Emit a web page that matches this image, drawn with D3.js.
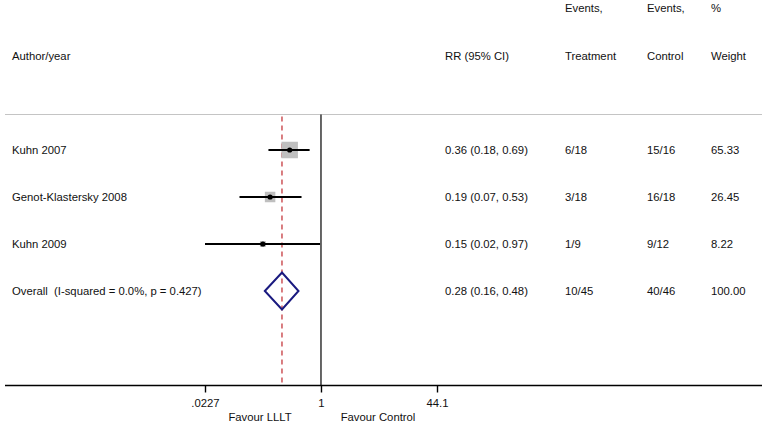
<!DOCTYPE html>
<html>
<head>
<meta charset="utf-8">
<script src="https://cdn.jsdelivr.net/npm/d3@7"></script>
<style>
  body { margin: 0; background: #fff; }
  text { font-family: "Liberation Sans", Arial, sans-serif; font-size: 11.3px; fill: #111; }
</style>
</head>
<body>
<svg id="chart"></svg>
<script>
// study rows
const studies = ['Kuhn 2007', 'Genot-Klastersky 2008', 'Kuhn 2009'];
const rr = [0.36, 0.19, 0.15];
const lower = [0.18, 0.07, 0.02];
const upper = [0.69, 0.53, 0.97];
const treatment = ['6/18', '3/18', '1/9'];
const control = ['15/16', '16/18', '9/12'];
const weight = [65.33, 26.45, 8.22];

// pooled estimate
const overallLabel = 'Overall  (I-squared = 0.0%, p = 0.427)';
const overall = { rr: 0.28, lower: 0.16, upper: 0.48, treatment: '10/45', control: '40/46', weight: '100.00' };

// axis
const tickValues = [0.0227, 1, 44.1];
const tickLabels = ['.0227', '1', '44.1'];

const width = 766, height = 427;
const svg = d3.select('#chart').attr('width', width).attr('height', height);

const x = d3.scaleLog().domain([0.0227, 44.1]).range([205, 437]).clamp(true);
const y = d3.scaleLinear().domain([0, 3]).range([150, 291]);
const side = d3.scaleSqrt().domain([0, 100]).range([0, 20.4]);
const fmt = d3.format('.2f');
const ci = (m, l, u) => `${fmt(m)} (${fmt(l)}, ${fmt(u)})`;

const topY = 114.5, axisY = 385.5;
const cols = { author: 12, rr: 445, trt: 565, ctl: 647, wt: 711 };

// header
const head = svg.append('g');
head.append('text').attr('x', cols.trt).attr('y', 12).text('Events,');
head.append('text').attr('x', cols.ctl).attr('y', 12).text('Events,');
head.append('text').attr('x', cols.wt).attr('y', 12).text('%');
head.append('text').attr('x', cols.author).attr('y', 60).text('Author/year');
head.append('text').attr('x', cols.rr).attr('y', 60).text('RR (95% CI)');
head.append('text').attr('x', cols.trt).attr('y', 60).text('Treatment');
head.append('text').attr('x', cols.ctl).attr('y', 60).text('Control');
head.append('text').attr('x', cols.wt).attr('y', 60).text('Weight');

svg.append('line')
  .attr('x1', 5).attr('x2', 762).attr('y1', topY).attr('y2', topY)
  .attr('stroke', '#c4c4c4').attr('stroke-width', 1.2);

// null line and overall effect line
svg.append('line')
  .attr('x1', x(1)).attr('x2', x(1)).attr('y1', topY).attr('y2', axisY)
  .attr('stroke', '#000').attr('stroke-width', 1.2);
svg.append('line')
  .attr('x1', x(overall.rr)).attr('x2', x(overall.rr)).attr('y1', topY + 2).attr('y2', axisY)
  .attr('stroke', '#c0282d').attr('stroke-width', 1.2).attr('stroke-dasharray', '5,4');

// studies
const rows = svg.append('g').selectAll('g').data(studies).join('g')
  .attr('transform', (d, i) => `translate(0,${y(i)})`);

rows.append('rect')
  .attr('x', (d, i) => x(rr[i]) - side(weight[i]) / 2)
  .attr('y', (d, i) => -side(weight[i]) / 2)
  .attr('width', (d, i) => side(weight[i]))
  .attr('height', (d, i) => side(weight[i]))
  .attr('fill', '#bfbfbf');

rows.append('line')
  .attr('x1', (d, i) => x(lower[i])).attr('x2', (d, i) => x(upper[i]))
  .attr('stroke', '#000').attr('stroke-width', 2);

rows.append('circle')
  .attr('cx', (d, i) => x(rr[i])).attr('r', 2.6).attr('fill', '#000');

rows.append('text').attr('x', cols.author).attr('y', 4).text(d => d);
rows.append('text').attr('x', cols.rr).attr('y', 4).text((d, i) => ci(rr[i], lower[i], upper[i]));
rows.append('text').attr('x', cols.trt).attr('y', 4).text((d, i) => treatment[i]);
rows.append('text').attr('x', cols.ctl).attr('y', 4).text((d, i) => control[i]);
rows.append('text').attr('x', cols.wt).attr('y', 4).text((d, i) => fmt(weight[i]));

// overall diamond
const oy = y(3);
const dh = 18.5;
svg.append('path')
  .attr('d', `M${x(overall.lower)},${oy}L${x(overall.rr)},${oy - dh}L${x(overall.upper)},${oy}L${x(overall.rr)},${oy + dh}Z`)
  .attr('fill', 'none').attr('stroke', '#1a1a80').attr('stroke-width', 2);

const og = svg.append('g').attr('transform', `translate(0,${oy})`);
og.append('text').attr('x', cols.author).attr('y', 4).attr('xml:space', 'preserve').text(overallLabel);
og.append('text').attr('x', cols.rr).attr('y', 4).text(ci(overall.rr, overall.lower, overall.upper));
og.append('text').attr('x', cols.trt).attr('y', 4).text(overall.treatment);
og.append('text').attr('x', cols.ctl).attr('y', 4).text(overall.control);
og.append('text').attr('x', cols.wt).attr('y', 4).text(overall.weight);

// x axis
svg.append('line')
  .attr('x1', 5).attr('x2', 762).attr('y1', axisY).attr('y2', axisY)
  .attr('stroke', '#000').attr('stroke-width', 1.4);

const axis = svg.append('g')
  .attr('transform', `translate(0,${axisY})`)
  .call(d3.axisBottom(x).tickValues(tickValues).tickSize(7).tickPadding(6)
    .tickFormat((d, i) => tickLabels[i]));
axis.select('.domain').remove();
axis.selectAll('.tick line').attr('stroke', '#000').attr('stroke-width', 1.4);
axis.selectAll('.tick text')
  .style('font-family', '"Liberation Sans", Arial, sans-serif')
  .style('font-size', '11.3px').attr('fill', '#111');

svg.append('text').attr('x', 260).attr('y', 421).attr('text-anchor', 'middle').text('Favour LLLT');
svg.append('text').attr('x', 378).attr('y', 421).attr('text-anchor', 'middle').text('Favour Control');
</script>
</body>
</html>
